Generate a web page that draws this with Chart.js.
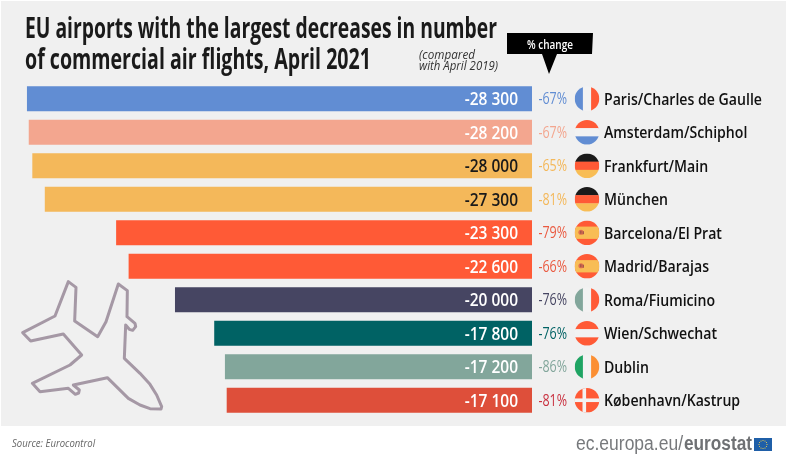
<!DOCTYPE html>
<html>
<head>
<meta charset="utf-8">
<style>
  html, body { margin: 0; padding: 0; background: #fff; }
  #wrap { position: relative; width: 788px; height: 464px; }
</style>
<script src="https://cdn.jsdelivr.net/npm/chart.js@4/dist/chart.umd.min.js"></script>
</head>
<body>
<div id="wrap"><canvas id="chart" width="788" height="464"></canvas></div>
<script>
const airports = ["Paris/Charles de Gaulle", "Amsterdam/Schiphol", "Frankfurt/Main", "München", "Barcelona/El Prat", "Madrid/Barajas", "Roma/Fiumicino", "Wien/Schwechat", "Dublin", "København/Kastrup"];
const flights = [-28300, -28200, -28000, -27300, -23300, -22600, -20000, -17800, -17200, -17100];
const pctChange = [-67, -67, -65, -81, -79, -66, -76, -76, -86, -81];
const countries = ["FR", "NL", "DE", "DE", "ES", "ES", "IT", "AT", "IE", "DK"];
const barColors = ["#618dd3", "#f3a68f", "#f4b85a", "#f4b85a", "#ff5a36", "#ff5a36", "#464562", "#006264", "#82a69b", "#de4f3a"];
const pctColors = ["#618dd3", "#f3a68f", "#f4b85a", "#f4b85a", "#ea5a40", "#ea5a40", "#464562", "#006264", "#82a69b", "#c9303f"];
const valueColors = ["#fff", "#fff", "#1a1a1a", "#1a1a1a", "#fff", "#fff", "#fff", "#fff", "#fff", "#fff"];

const RED = "#ff5a36", WHITE = "#f2f2f2", AMBER = "#f8bd55";

// draw text squeezed to look like the condensed font of the original
function text(ctx, str, x, y, font, color, align, sx) {
  ctx.save();
  ctx.font = font;
  ctx.fillStyle = color;
  ctx.textAlign = align || "left";
  ctx.textBaseline = "alphabetic";
  ctx.translate(x, y);
  ctx.scale(sx || 1, 1);
  ctx.fillText(str, 0, 0);
  ctx.restore();
}

function fitText(ctx, str, x, y, width, font, color) {
  ctx.font = font;
  text(ctx, str, x, y, font, color, "left", width / ctx.measureText(str).width);
}

function stripes(ctx, cx, cy, r, colors, vertical) {
  const n = colors.length;
  colors.forEach((c, i) => {
    ctx.fillStyle = c;
    if (vertical) ctx.fillRect(cx - r + i * 2 * r / n, cy - r, 2 * r / n + 0.3, 2 * r);
    else ctx.fillRect(cx - r, cy - r + i * 2 * r / n, 2 * r, 2 * r / n + 0.3);
  });
}

function drawFlag(ctx, code, cx, cy, r) {
  ctx.save();
  ctx.beginPath();
  ctx.arc(cx, cy, r, 0, Math.PI * 2);
  ctx.clip();
  if (code === "FR") stripes(ctx, cx, cy, r, ["#618dd3", WHITE, RED], true);
  if (code === "NL") stripes(ctx, cx, cy, r, [RED, WHITE, "#618dd3"], false);
  if (code === "DE") stripes(ctx, cx, cy, r, ["#1a1a1a", RED, AMBER], false);
  if (code === "IT") stripes(ctx, cx, cy, r, ["#82a69b", WHITE, RED], true);
  if (code === "AT") stripes(ctx, cx, cy, r, [RED, WHITE, RED], false);
  if (code === "IE") stripes(ctx, cx, cy, r, ["#1fa463", WHITE, "#fb8f33"], true);
  if (code === "ES") {
    ctx.fillStyle = RED;
    ctx.fillRect(cx - r, cy - r, 2 * r, 2 * r);
    ctx.fillStyle = AMBER;
    ctx.fillRect(cx - r, cy - r / 2, 2 * r, r);
    ctx.fillStyle = "#e0714f";
    ctx.beginPath();
    ctx.arc(cx - 6, cy - 0.5, 2.6, 0, Math.PI * 2);
    ctx.fill();
    ctx.fillStyle = "#a8574a";
    ctx.fillRect(cx - 7, cy - 2, 1.6, 3);
    ctx.fillRect(cx - 4.4, cy - 1.5, 1.4, 3);
  }
  if (code === "DK") {
    ctx.fillStyle = RED;
    ctx.fillRect(cx - r, cy - r, 2 * r, 2 * r);
    ctx.fillStyle = WHITE;
    ctx.fillRect(cx - 4.5, cy - r, 3.6, 2 * r);
    ctx.fillRect(cx - r, cy - 1.8, 2 * r, 3.6);
  }
  ctx.restore();
}

function drawPlane(ctx) {
  const outline = [[205,65],[228,82],[224,183],[293,230],[318,185],[355,72],[382,92],[381,170],[405,190],[407,200],[398,211],[388,208],[377,195],[373,295],[420,340],[450,373],[470,405],[485,440],[483,447],[450,446],[420,435],[385,415],[322,353],[220,375],[238,390],[236,399],[226,403],[205,385],[120,395],[97,370],[210,315],[245,285],[190,222],[92,243],[68,218],[165,168]];
  ctx.save();
  ctx.strokeStyle = "#a598a5";
  ctx.lineWidth = 3;
  ctx.lineJoin = "round";
  ctx.beginPath();
  outline.forEach((p, i) => {
    const x = p[0] / 3, y = 260 + p[1] / 3;
    if (i === 0) ctx.moveTo(x, y); else ctx.lineTo(x, y);
  });
  ctx.closePath();
  ctx.stroke();
  ctx.restore();
}

function drawEuFlag(ctx) {
  ctx.fillStyle = "#1f5fa8";
  ctx.fillRect(754, 438, 18, 13);
  ctx.fillStyle = "#ffd84a";
  for (let i = 0; i < 12; i++) {
    const a = i * Math.PI / 6;
    ctx.beginPath();
    ctx.arc(763 + 4 * Math.cos(a), 444.5 + 4 * Math.sin(a), 0.55, 0, Math.PI * 2);
    ctx.fill();
  }
}

const backdrop = {
  id: "backdrop",
  beforeDraw(chart) {
    const ctx = chart.ctx;
    ctx.save();
    ctx.fillStyle = "#fff";
    ctx.fillRect(0, 0, 788, 464);
    ctx.fillStyle = "#f0f0f0";
    ctx.fillRect(1, 1, 785, 425);
    ctx.restore();
    drawPlane(ctx);
  }
};

const annotations = {
  id: "annotations",
  afterDatasetsDraw(chart) {
    const ctx = chart.ctx;
    const yScale = chart.scales.y;
    const head = "700 29px 'Open Sans'";
    fitText(ctx, "EU airports with the largest decreases in number", 25, 38, 472, head, "#1a1a1a");
    fitText(ctx, "of commercial air flights, April 2021", 25, 69, 346, head, "#1a1a1a");
    const note = "italic 12px 'Open Sans'";
    fitText(ctx, "(compared", 419, 59, 56, note, "#333");
    fitText(ctx, "with April 2019)", 419, 70, 79, note, "#333");

    // callout over the percentage column
    ctx.fillStyle = "#000";
    ctx.beginPath();
    ctx.moveTo(507, 33);
    ctx.lineTo(593, 33);
    ctx.lineTo(592, 54);
    ctx.lineTo(557, 54);
    ctx.lineTo(549, 74);
    ctx.lineTo(542, 54);
    ctx.lineTo(507, 54);
    ctx.closePath();
    ctx.fill();
    fitText(ctx, "% change", 527, 49, 46, "600 13px 'Open Sans'", "#fff");

    airports.forEach((name, i) => {
      const y = yScale.getPixelForValue(i);
      const label = "-" + Math.abs(flights[i]).toLocaleString("en-US").replace(",", " ");
      text(ctx, label, 518, y + 6.5, "600 18px 'Open Sans'", valueColors[i], "right", 0.86);
      text(ctx, pctChange[i] + "%", 567, y + 5.5, "16px 'Open Sans'", pctColors[i], "right", 0.78);
      drawFlag(ctx, countries[i], 587, y, 12.3);
      text(ctx, name, 604, y + 6, "600 17px 'Open Sans'", "#111", "left", 0.83);
    });

    text(ctx, "Source: Eurocontrol", 12, 447, "italic 11px 'Open Sans'", "#666", "left", 0.87);
    fitText(ctx, "ec.europa.eu/", 576, 450, 107, "20px 'Liberation Sans'", "#77797c");
    fitText(ctx, "eurostat", 684, 450, 68, "bold 20px 'Liberation Sans'", "#6f7174");
    drawEuFlag(ctx);
  }
};

new Chart(document.getElementById("chart"), {
  type: "bar",
  data: {
    labels: airports,
    datasets: [{
      data: flights,
      backgroundColor: barColors,
      barThickness: 24.5,
      borderWidth: 0
    }]
  },
  options: {
    indexAxis: "y",
    responsive: false,
    animation: false,
    layout: { padding: { left: 0, right: 256, top: 82, bottom: 47 } },
    scales: {
      x: { display: false, min: -29830, max: 0 },
      y: { display: false }
    },
    plugins: {
      legend: { display: false },
      tooltip: { enabled: false }
    }
  },
  plugins: [backdrop, annotations]
});
</script>
</body>
</html>
